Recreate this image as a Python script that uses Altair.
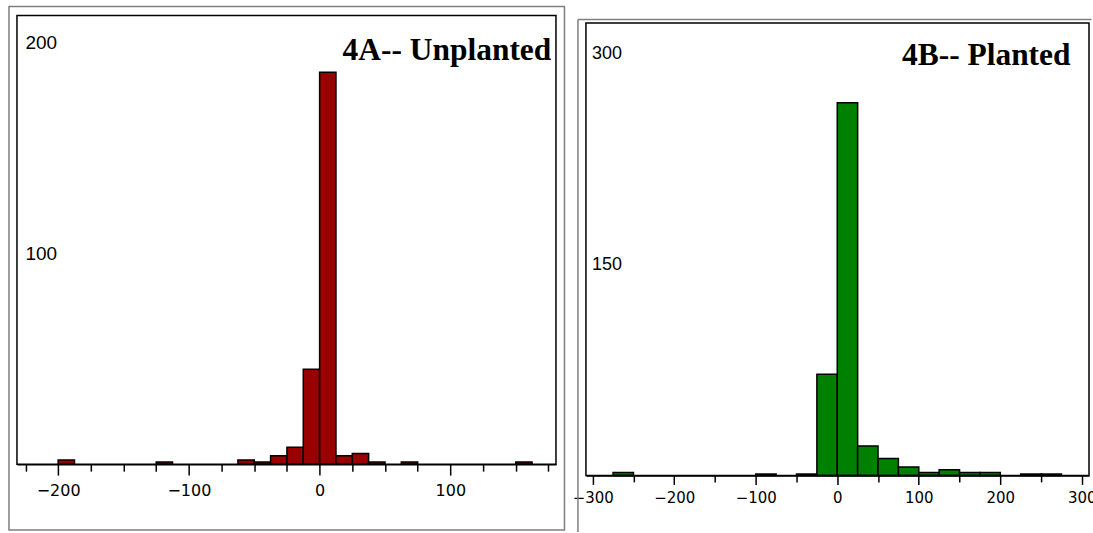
import altair as alt
import pandas as pd

# ---------------- data ----------------
# 4A -- Unplanted : histogram bins (width 12.5)
left_start = [-200, -125, -62.5, -50, -37.5, -25, -12.5, 0, 12.5, 25, 37.5, 62.5, 150]
left_end = [-187.5, -112.5, -50, -37.5, -25, -12.5, 0, 12.5, 25, 37.5, 50, 75, 162.5]
left_count = [2, 1, 2, 1, 4, 8, 45, 186, 4, 5, 1, 1, 1]

# 4B -- Planted : histogram bins (width 25)
right_start = [-275, -100, -50, -25, 0, 25, 50, 75, 100, 125, 150, 175, 225, 250]
right_end = [-250, -75, -25, 0, 25, 50, 75, 100, 125, 150, 175, 200, 250, 275]
right_count = [2, 1, 1, 72, 265, 21, 12, 6, 2, 4, 2, 2, 1, 1]

left_major = [-200, -100, 0, 100]
left_minor = [-225, -175, -150, -125, -75, -50, -25, 25, 50, 75, 125, 150, 175]
left_yticks = [100, 200]

right_major = [-300, -200, -100, 0, 100, 200, 300]
right_minor = [-250, -150, -50, 50, 150, 250]
right_yticks = [150, 300]

dfL = pd.DataFrame({"start": left_start, "end": left_end, "count": left_count})
dfR = pd.DataFrame({"start": right_start, "end": right_end, "count": right_count})
one = pd.DataFrame({"a": [0]})

RED = "#990000"
GREEN = "#008000"
GRAY = "#7f7f7f"


def panel(df, color, xdom, ydom, major, minor, yvals, w, h, frame_top,
          major_tick, minor_tick, xlab_size, xlab_pad, ylab_size, ylab_pad,
          title, tx, ty, anchor, outer):
    xs = alt.Scale(domain=xdom, nice=False, zero=False)
    ys = alt.Scale(domain=ydom, nice=False, zero=True)

    anchor_layer = alt.Chart(one).mark_rect(opacity=0).encode(
        x=alt.value(anchor[0]), x2=alt.value(anchor[1]),
        y=alt.value(anchor[2]), y2=alt.value(anchor[3]))

    minor_layer = alt.Chart(df).mark_rule(opacity=0).encode(
        x=alt.X("start:Q", scale=xs,
                axis=alt.Axis(values=minor, orient="bottom", labels=False,
                              domain=False, tickSize=minor_tick, tickWidth=1.5,
                              tickColor="black", grid=False, title=None)))

    bars = alt.Chart(df).mark_bar(color=color, stroke="black",
                                  strokeWidth=1.5).encode(
        x=alt.X("start:Q", scale=xs,
                axis=alt.Axis(values=major, orient="bottom",
                              tickSize=major_tick, tickWidth=1.5,
                              tickColor="black", domain=True,
                              domainColor="black", domainWidth=1.5,
                              labelFont="DejaVu Sans", labelFontSize=xlab_size,
                              labelColor="black", labelPadding=xlab_pad,
                              grid=False, title=None)),
        x2="end:Q",
        y=alt.Y("count:Q", scale=ys,
                axis=alt.Axis(values=yvals, ticks=False, tickSize=0,
                              domain=False, labelAlign="left",
                              labelPadding=ylab_pad, labelFont="Liberation Sans",
                              labelFontSize=ylab_size, labelColor="black",
                              grid=False, title=None)),
        y2=alt.datum(0),
    )

    frame = alt.Chart(one).mark_rect(fillOpacity=0, stroke="black",
                                     strokeWidth=1.5).encode(
        x=alt.value(0), x2=alt.value(w), y=alt.value(frame_top), y2=alt.value(h))

    title_layer = alt.Chart(one).mark_text(
        text=title, font="Liberation Serif", fontWeight="bold",
        fontSize=31.5, align="right", baseline="alphabetic",
        color="black").encode(x=alt.value(tx), y=alt.value(ty))

    layers = [anchor_layer] + outer + [minor_layer, bars, frame, title_layer]
    return alt.layer(*layers).resolve_axis(x="independent").properties(
        width=w, height=h)


left_outer = [
    alt.Chart(one).mark_rect(fillOpacity=0, stroke=GRAY, strokeWidth=1.5).encode(
        x=alt.value(-8), x2=alt.value(548.5), y=alt.value(-9), y2=alt.value(515.5))
]
right_outer = [
    alt.Chart(one).mark_rule(color=GRAY, strokeWidth=1.5).encode(
        x=alt.value(-8), y=alt.value(4), y2=alt.value(517.5)),
    alt.Chart(one).mark_rule(color=GRAY, strokeWidth=1.5).encode(
        x=alt.value(-8), x2=alt.value(506.5), y=alt.value(4)),
]

left = panel(dfL, RED, [-231.5, 180.8], [0, 213], left_major, left_minor,
             left_yticks, 540, 449.5, 0, 11, 7, 16, 7.3, 19, -8,
             "4A-- Unplanted", 535.3, 44.4,
             (-16.5, 555, -14.5, 517.5), left_outer)

right = panel(dfR, GREEN, [-308.3, 308.8], [0, 327.0], right_major, right_minor,
              right_yticks, 504, 460.8, 7.5, 9, 6.5, 15, 6.5, 18, -5.5,
              "4B-- Planted", 485.5, 50.1,
              (-15, 506.5, -14.5, 517.5), right_outer)

chart = alt.hconcat(left, right, spacing=0).properties(
    padding={"left": 0, "top": 0, "right": -4, "bottom": 0}
).configure_view(stroke="transparent", strokeWidth=0)

chart.save("out.html", embed_options={"renderer": "svg", "actions": False})
